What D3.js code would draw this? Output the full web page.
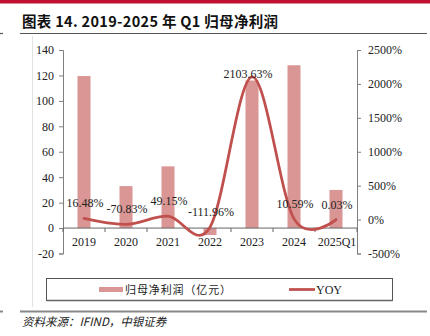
<!DOCTYPE html>
<html>
<head>
<meta charset="utf-8">
<script src="https://cdn.jsdelivr.net/npm/d3@7"></script>
<style>
  html, body { margin: 0; padding: 0; background: #fff; }
  svg { display: block; }
</style>
</head>
<body>
<svg id="chart" width="430" height="336"></svg>
<script>
// Net profit attributable to parent (100M CNY) and YoY growth
const categories = ["2019", "2020", "2021", "2022", "2023", "2024", "2025Q1"];
const profit = [119.5, 33, 48.5, -5.5, 116, 128, 30];
const yoy = [16.48, -70.83, 49.15, -111.96, 2103.63, 10.59, 0.03];
const yoyLabels = ["16.48%", "-70.83%", "49.15%", "-111.96%", "2103.63%", "10.59%", "0.03%"];
const leftTicks = [-20, 0, 20, 40, 60, 80, 100, 120, 140];
const rightTicks = [-500, 0, 500, 1000, 1500, 2000, 2500];

const svg = d3.select("#chart");
const serif = "'Liberation Serif', 'Times New Roman', serif";
const cjk = "'Noto Sans CJK SC', sans-serif";
const axisColor = "#808080";
const textColor = "#222";
const barColor = "#D99694";
const lineColor = "#C0504D";

// page decorations: top band, title, rules
svg.append("rect").attr("x", 0).attr("y", 0).attr("width", 430).attr("height", 3.5).attr("fill", "#C0102F");
svg.append("text").attr("x", 22).attr("y", 26.5)
  .attr("font-family", cjk).attr("font-weight", "bold").attr("font-size", 14.5).attr("fill", "#111")
  .attr("textLength", 256).attr("lengthAdjust", "spacing")
  .text("图表 14. 2019-2025 年 Q1 归母净利润");
svg.append("line").attr("x1", 20).attr("x2", 427).attr("y1", 33.5).attr("y2", 33.5).attr("stroke", "#555").attr("stroke-width", 1.2);
svg.append("line").attr("x1", 0).attr("x2", 3).attr("y1", 33.5).attr("y2", 33.5).attr("stroke", "#555").attr("stroke-width", 1.2);
svg.append("line").attr("x1", 32.5).attr("x2", 32.5).attr("y1", 36).attr("y2", 307).attr("stroke", "#e2e2e2").attr("stroke-width", 1);
svg.append("line").attr("x1", 20).attr("x2", 427).attr("y1", 311.5).attr("y2", 311.5).attr("stroke", "#888").attr("stroke-width", 2);
svg.append("line").attr("x1", 0).attr("x2", 3).attr("y1", 311.5).attr("y2", 311.5).attr("stroke", "#888").attr("stroke-width", 2);
svg.append("text").attr("x", 22).attr("y", 326)
  .attr("font-family", cjk).attr("font-style", "italic").attr("font-size", 11.5).attr("fill", "#222")
  .text("资料来源：IFIND，中银证券");

// scales
const x = d3.scaleBand().domain(categories).range([63, 357]).padding(0);
const yL = d3.scaleLinear().domain([-20, 140]).range([253.5, 50]);
const yR = d3.scaleLinear().domain([-500, 2500]).range([253.5, 50]);
const barW = 13;

// left axis
const gL = svg.append("g").attr("transform", "translate(63,0)")
  .call(d3.axisLeft(yL).tickValues(leftTicks).tickSize(4).tickPadding(5).tickFormat(d => String(d)));
// right axis
const gR = svg.append("g").attr("transform", "translate(357,0)")
  .call(d3.axisRight(yR).tickValues(rightTicks).tickSize(4).tickPadding(7).tickFormat(d => String(d) + "%"));
[gL, gR].forEach(g => {
  g.select(".domain").attr("stroke", axisColor);
  g.selectAll(".tick line").attr("stroke", axisColor);
  g.selectAll(".tick text").attr("font-family", serif).attr("font-size", 12).attr("fill", textColor);
});

// bars
svg.append("g").selectAll("rect").data(profit).join("rect")
  .attr("x", (d, i) => x(categories[i]) + x.bandwidth() / 2 - barW / 2)
  .attr("y", d => yL(Math.max(0, d)))
  .attr("width", barW)
  .attr("height", d => Math.abs(yL(d) - yL(0)))
  .attr("fill", barColor);

// category axis along zero
const gX = svg.append("g").attr("transform", `translate(0,${yL(0)})`);
gX.append("line").attr("x1", 63).attr("x2", 357).attr("y1", 0).attr("y2", 0).attr("stroke", "#666").attr("stroke-width", 1);
const bounds = categories.map(c => x(c)).concat([x.range()[1]]);
gX.selectAll("line.tk").data(bounds).join("line").attr("class", "tk")
  .attr("x1", d => d).attr("x2", d => d).attr("y1", 0).attr("y2", 4).attr("stroke", "#666");
gX.selectAll("text").data(categories).join("text")
  .attr("x", d => x(d) + x.bandwidth() / 2 + (d === "2025Q1" ? 1 : 0))
  .attr("y", 18)
  .attr("text-anchor", "middle")
  .attr("font-family", serif).attr("font-size", 12).attr("fill", textColor)
  .text(d => d);

// YoY smoothed line
const pts = yoy.map((v, i) => [x(categories[i]) + x.bandwidth() / 2, yR(v)]);
svg.append("path").datum(pts)
  .attr("d", d3.line().curve(d3.curveCatmullRom.alpha(0)))
  .attr("fill", "none").attr("stroke", lineColor).attr("stroke-width", 2.75).attr("stroke-linecap", "round");

// YoY value labels
const peak = yoy.indexOf(d3.max(yoy));
svg.append("g").selectAll("text").data(yoy).join("text")
  .attr("x", (d, i) => pts[i][0] + (i === peak ? -4 : 1))
  .attr("y", (d, i) => pts[i][1] + (i === peak ? 1 : -11))
  .attr("text-anchor", "middle")
  .attr("font-family", serif).attr("font-size", 12).attr("fill", textColor)
  .text((d, i) => yoyLabels[i]);

// legend
const lg = svg.append("g");
lg.append("rect").attr("x", 46.5).attr("y", 278.5).attr("width", 346).attr("height", 22)
  .attr("fill", "none").attr("stroke", "#555").attr("stroke-width", 1);
lg.append("line").attr("x1", 46.5).attr("x2", 392.5).attr("y1", 300.5).attr("y2", 300.5).attr("stroke", "#666").attr("stroke-width", 1.5);
lg.append("rect").attr("x", 99).attr("y", 287).attr("width", 24).attr("height", 5).attr("fill", barColor);
lg.append("text").attr("x", 125).attr("y", 294)
  .attr("font-family", cjk).attr("font-size", 11).attr("fill", textColor)
  .attr("textLength", 106).attr("lengthAdjust", "spacing")
  .text("归母净利润（亿元）");
lg.append("line").attr("x1", 289).attr("x2", 315).attr("y1", 289.5).attr("y2", 289.5).attr("stroke", lineColor).attr("stroke-width", 2.75);
lg.append("text").attr("x", 316).attr("y", 294)
  .attr("font-family", serif).attr("font-size", 12).attr("fill", textColor)
  .text("YOY");
</script>
</body>
</html>
